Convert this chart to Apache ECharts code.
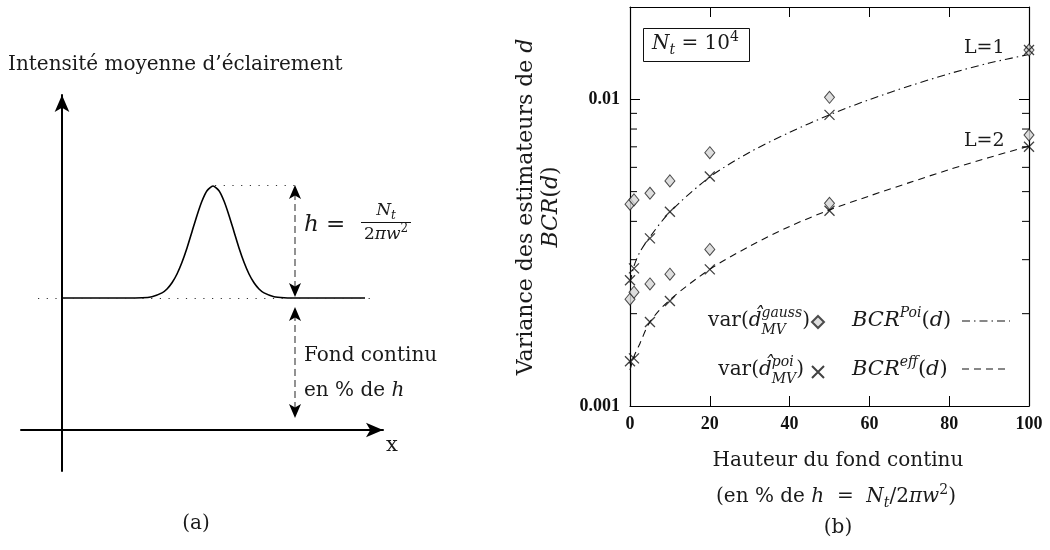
<!DOCTYPE html>
<html>
<head>
<meta charset="utf-8">
<title>Variance des estimateurs de d</title>
<script src="https://cdn.jsdelivr.net/npm/echarts@6.0.0/dist/echarts.min.js"></script>
<style>
  html, body { margin: 0; padding: 0; background: #fff; }
  #chart { width: 1050px; height: 550px; }
</style>
</head>
<body>
<div id="chart"></div>
<script>
// (a) profil d'intensite (schema), en unites "pixel" du schema
const sketchX = [0, 40, 80, 90, 100, 105, 110, 115, 120, 125, 130, 135, 140, 145, 151,
  157, 162, 167, 172, 177, 182, 187, 192, 197, 202, 212, 222, 240, 270, 303];
const sketchY = [132, 132, 132.3, 133.3, 137.1, 141, 147.2, 156, 167.7, 182, 198.3, 214.6, 229, 239.3, 244,
  239.3, 229, 214.6, 198.3, 182, 167.7, 156, 147.2, 141, 137.1, 133.3, 132.3, 132, 132, 132];
const sketchBase = 132;
const sketchPeak = 245;

// (b) variance en fonction du fond continu (% de h)
const fondLevels = [0, 1, 5, 10, 20, 50, 100];
const gaussL1 = [0.00455, 0.0047, 0.00494, 0.00542, 0.0067, 0.01015, 0.01448];
const poiL1 = [0.00257, 0.00281, 0.00352, 0.0043, 0.0056, 0.0089, 0.01448];
const gaussL2 = [0.00223, 0.00235, 0.0025, 0.00269, 0.00324, 0.00458, 0.00765];
const poiL2 = [0.0014, 0.00143, 0.00188, 0.0022, 0.00279, 0.00433, 0.007];

const curveX = [0, 1, 2.5, 5, 10, 20, 30, 40, 50, 60, 70, 80, 90, 100];
const bcrPoi = [0.00252, 0.00286, 0.00318, 0.00356, 0.00429, 0.00558, 0.00672, 0.0078, 0.0089, 0.00998, 0.01105, 0.01212, 0.01313, 0.0140];
const bcrEff = [0.00131, 0.00145, 0.0016, 0.00188, 0.00222, 0.00279, 0.00332, 0.00385, 0.00436, 0.00484, 0.00535, 0.0059, 0.00646, 0.00704];

const xTicks = [0, 20, 40, 60, 80, 100];
const yMajorTicks = [0.001, 0.01];
const yMinorTicks = [0.002, 0.003, 0.004, 0.005, 0.006, 0.007, 0.008, 0.009];

const pairs = (xs, ys) => xs.map((x, i) => [x, ys[i]]);

// petit moteur de texte "math" : indices / exposants
const SERIF = '"DejaVu Serif"';
const mctx = document.createElement('canvas').getContext('2d');
function fontOf(size, italic) { return (italic ? 'italic ' : '') + size + 'px ' + SERIF; }
function widthOf(t, size, italic) { mctx.font = fontOf(size, italic); return mctx.measureText(t).width; }
function mathLabel(tokens, x, y, align) {
  let cx = 0;
  const kids = [];
  tokens.forEach(tok => {
    const list = Array.isArray(tok) ? [tok] : [tok.sup, tok.sub].filter(Boolean);
    let w = 0;
    list.forEach(([t, size, it, dy]) => {
      kids.push({ type: 'text', x: cx, y: dy || 0,
        style: { text: t, font: fontOf(size, it), fill: '#1a1a1a', verticalAlign: 'middle', align: 'left' } });
      w = Math.max(w, widthOf(t, size, it));
    });
    cx += w;
  });
  const shift = align === 'right' ? -cx : align === 'center' ? -cx / 2 : 0;
  return { type: 'group', x: x + shift, y: y, children: kids, silent: true };
}
function sampleLine(x1, x2, y, dash) {
  return { type: 'line', silent: true, shape: { x1: x1, y1: y, x2: x2, y2: y },
    style: { stroke: '#111', lineWidth: 1.1, lineDash: dash } };
}

const chart = echarts.init(document.getElementById('chart'));

const crossSymbol = 'path://M0,0L10,10M10,0L0,10';
const dashDot = [8, 4, 1.5, 4];
const dashed = [7, 5];
const tickLabelStyle = { fontFamily: 'Liberation Serif', fontWeight: 'bold', fontSize: 18, color: '#111' };

let option = {
  animation: false,
  backgroundColor: '#fff',
  grid: [
    { left: 630, top: 7, width: 399, height: 399, outerBoundsMode: 'none' },
    { left: 21, top: 95, width: 362, height: 376, outerBoundsMode: 'none' }
  ],
  xAxis: [
    {
      type: 'value', gridIndex: 0, min: 0, max: 100, interval: 20, position: 'bottom',
      axisLine: { onZero: false, lineStyle: { color: '#000', width: 1.2 } },
      axisTick: { inside: true, length: 10, lineStyle: { color: '#000' } },
      axisLabel: Object.assign({ margin: 9, formatter: v => xTicks.includes(v) ? String(v) : '' }, tickLabelStyle),
      splitLine: { show: false }
    },
    {
      type: 'value', gridIndex: 0, min: 0, max: 100, interval: 20, position: 'top',
      axisLine: { onZero: false, lineStyle: { color: '#000', width: 1.2 } },
      axisTick: { inside: true, length: 10, lineStyle: { color: '#000' } },
      axisLabel: { show: false }, splitLine: { show: false }
    },
    {
      type: 'value', gridIndex: 1, min: -41, max: 321,
      axisLine: { onZero: true, symbol: ['none', 'arrow'], symbolSize: [11, 17], lineStyle: { color: '#000', width: 2 } },
      axisTick: { show: false }, axisLabel: { show: false }, splitLine: { show: false }
    }
  ],
  yAxis: [
    {
      type: 'log', logBase: 10, gridIndex: 0, min: 0.001, max: 0.02, position: 'left',
      axisLine: { show: true, onZero: false, lineStyle: { color: '#000', width: 1.2 } },
      axisTick: { show: true, inside: true, length: 10, lineStyle: { color: '#000' } },
      axisLabel: Object.assign({ margin: 10,
        formatter: v => yMajorTicks.some(t => Math.abs(v - t) < 1e-9) ? String(v) : '' }, tickLabelStyle),
      splitLine: { show: false }
    },
    {
      type: 'log', logBase: 10, gridIndex: 0, min: 0.001, max: 0.02, position: 'right',
      axisLine: { show: true, onZero: false, lineStyle: { color: '#000', width: 1.2 } },
      axisTick: { show: true, inside: true, length: 10, lineStyle: { color: '#000' } },
      axisLabel: { show: false }, splitLine: { show: false }
    },
    {
      type: 'value', gridIndex: 1, min: -41, max: 335,
      axisLine: { show: true, onZero: true, symbol: ['none', 'arrow'], symbolSize: [11, 17], lineStyle: { color: '#000', width: 2 } },
      axisTick: { show: false }, axisLabel: { show: false }, splitLine: { show: false }
    }
  ],
  legend: {
    data: ['var gauss', 'var poi'], left: 811, top: 315, orient: 'vertical', padding: 0,
    itemWidth: 12, itemHeight: 12, itemGap: 36, selectedMode: false,
    formatter: () => '', textStyle: { fontSize: 1, color: 'rgba(0,0,0,0)' }
  },
  series: [
    // courbes theoriques
    {
      name: 'BCR Poi', type: 'line', xAxisIndex: 0, yAxisIndex: 0, data: pairs(curveX, bcrPoi),
      smooth: 0.3, symbol: 'none', lineStyle: { color: '#111', width: 1.1, type: dashDot }, z: 2
    },
    {
      name: 'BCR eff', type: 'line', xAxisIndex: 0, yAxisIndex: 0, data: pairs(curveX, bcrEff),
      smooth: 0.3, symbol: 'none', lineStyle: { color: '#111', width: 1.1, type: dashed }, z: 2
    },
    // points simules
    {
      name: 'var gauss', type: 'scatter', xAxisIndex: 0, yAxisIndex: 0, data: pairs(fondLevels, gaussL1),
      symbol: 'diamond', symbolSize: [10, 12], itemStyle: { color: '#d6d6d6', borderColor: '#222', borderWidth: 1 }, z: 3
    },
    {
      name: 'var gauss', type: 'scatter', xAxisIndex: 0, yAxisIndex: 0, data: pairs(fondLevels, gaussL2),
      symbol: 'diamond', symbolSize: [10, 12], itemStyle: { color: '#d6d6d6', borderColor: '#222', borderWidth: 1 }, z: 3
    },
    {
      name: 'var poi', type: 'scatter', xAxisIndex: 0, yAxisIndex: 0, data: pairs(fondLevels, poiL1),
      symbol: crossSymbol, symbolSize: 10, itemStyle: { color: 'rgba(0,0,0,0)', borderColor: '#111', borderWidth: 1.3 }, z: 4
    },
    {
      name: 'var poi', type: 'scatter', xAxisIndex: 0, yAxisIndex: 0, data: pairs(fondLevels, poiL2),
      symbol: crossSymbol, symbolSize: 10, itemStyle: { color: 'rgba(0,0,0,0)', borderColor: '#111', borderWidth: 1.3 }, z: 4
    },
    // graduations secondaires de l'axe log (gauche et droite)
    {
      type: 'custom', xAxisIndex: 0, yAxisIndex: 0, silent: true, z: 1,
      data: yMinorTicks.map(v => [0, v]),
      renderItem: (params, api) => {
        const p = api.coord([0, api.value(1)]);
        const cs = params.coordSys;
        return { type: 'group', children: [
          { type: 'line', shape: { x1: cs.x, y1: p[1], x2: cs.x + 7, y2: p[1] }, style: { stroke: '#000', lineWidth: 1 } },
          { type: 'line', shape: { x1: cs.x + cs.width - 7, y1: p[1], x2: cs.x + cs.width, y2: p[1] }, style: { stroke: '#000', lineWidth: 1 } }
        ] };
      }
    },
    // (a) schema
    {
      name: 'profil', type: 'line', xAxisIndex: 2, yAxisIndex: 2, data: pairs(sketchX, sketchY),
      smooth: 0.25, symbol: 'none', lineStyle: { color: '#000', width: 1.6 }, z: 3,
      markLine: {
        silent: true, symbol: ['none', 'none'], label: { show: false },
        lineStyle: { color: '#333', width: 1.1, type: [1.2, 7.5] },
        data: [
          [{ coord: [-24, sketchBase] }, { coord: [315, sketchBase] }],
          [{ coord: [153, sketchPeak] }, { coord: [233, sketchPeak] }]
        ]
      }
    },
    {
      name: 'tirets', type: 'line', xAxisIndex: 2, yAxisIndex: 2, data: [],
      markLine: {
        silent: true, symbol: ['none', 'none'], label: { show: false },
        lineStyle: { color: '#777', width: 1.6, type: [7, 4] },
        data: [
          [{ coord: [233, sketchPeak - 8] }, { coord: [233, sketchBase + 8] }],
          [{ coord: [233, sketchBase - 16] }, { coord: [233, 20] }]
        ]
      }
    },
    {
      name: 'fleches', type: 'line', xAxisIndex: 2, yAxisIndex: 2, data: [],
      markLine: {
        silent: true, symbol: ['arrow', 'arrow'], symbolSize: [9, 14], label: { show: false },
        lineStyle: { color: '#000', width: 0, opacity: 1 },
        data: [
          [{ coord: [233, sketchPeak] }, { coord: [233, sketchBase + 1] }],
          [{ coord: [233, sketchBase - 9] }, { coord: [233, 12] }]
        ]
      }
    }
  ],
  graphic: { elements: [
    // panneau (a)
    mathLabel([["Intensité moyenne d’éclairement", 20, false]], 8, 65, 'left'),
    mathLabel([['x', 21, false]], 386, 446, 'left'),
    mathLabel([['h', 23, true], [' = ', 23, false]], 304, 225, 'left'),
    { type: 'line', shape: { x1: 361, y1: 222.5, x2: 411, y2: 222.5 }, style: { stroke: '#111', lineWidth: 1.2 } },
    mathLabel([['N', 17, true], { sub: ['t', 12, true, 5] }], 386, 211, 'center'),
    mathLabel([['2', 17, false], ['πw', 17, true], { sup: ['2', 12, false, -6] }], 386, 235, 'center'),
    mathLabel([['Fond continu', 20, false]], 304, 356, 'left'),
    mathLabel([['en % de ', 20, false], ['h', 20, true]], 304, 391, 'left'),
    mathLabel([['(a)', 20, false]], 196, 524, 'center'),

    // panneau (b)
    { type: 'rect', shape: { x: 643.5, y: 28.5, width: 106, height: 33 }, style: { fill: '#fff', stroke: '#111', lineWidth: 1 } },
    mathLabel([['N', 20, true], { sub: ['t', 14, true, 6] }, [' = 10', 20, false], { sup: ['4', 14, false, -7] }], 652, 44, 'left'),
    mathLabel([['L=1', 19, false]], 964, 48, 'left'),
    mathLabel([['L=2', 19, false]], 964, 141, 'left'),

    mathLabel([['var(', 20, false], ['d̂', 20, true], { sup: ['gauss', 14, true, -8], sub: ['MV', 14, true, 9] }, [')', 20, false]], 810, 321, 'right'),
    mathLabel([['var(', 20, false], ['d̂', 20, true], { sup: ['poi', 14, true, -8], sub: ['MV', 14, true, 9] }, [')', 20, false]], 804, 370, 'right'),
    mathLabel([['BCR', 21, true], { sup: ['Poi', 14, true, -8] }, ['(', 21, false], ['d', 21, true], [')', 21, false]], 852, 321, 'left'),
    mathLabel([['BCR', 21, true], { sup: ['eff', 14, true, -8] }, ['(', 21, false], ['d', 21, true], [')', 21, false]], 852, 370, 'left'),
    sampleLine(962, 1010, 321, dashDot),
    sampleLine(962, 1010, 369, dashed),

    { type: 'group', x: 526, y: 207, rotation: Math.PI / 2, silent: true, children: [
      mathLabel([['Variance des estimateurs de ', 22, false], ['d', 22, true]], 0, 0, 'center')
    ] },
    { type: 'group', x: 551, y: 207, rotation: Math.PI / 2, silent: true, children: [
      mathLabel([['BCR', 22, true], ['(', 22, false], ['d', 22, true], [')', 22, false]], 0, 0, 'center')
    ] },

    mathLabel([['Hauteur du fond continu', 20, false]], 838, 461, 'center'),
    mathLabel([['(en % de ', 20, false], ['h', 20, true], ['  =  ', 20, false], ['N', 20, true], { sub: ['t', 14, true, 6] },
      ['/2', 20, false], ['πw', 20, true], { sup: ['2', 14, false, -7] }, [')', 20, false]], 836, 497, 'center'),
    mathLabel([['(b)', 20, false]], 838, 528, 'center')
  ] }
};

chart.setOption(option);
window.addEventListener('resize', function () {
  chart.resize();
});
</script>
</body>
</html>
